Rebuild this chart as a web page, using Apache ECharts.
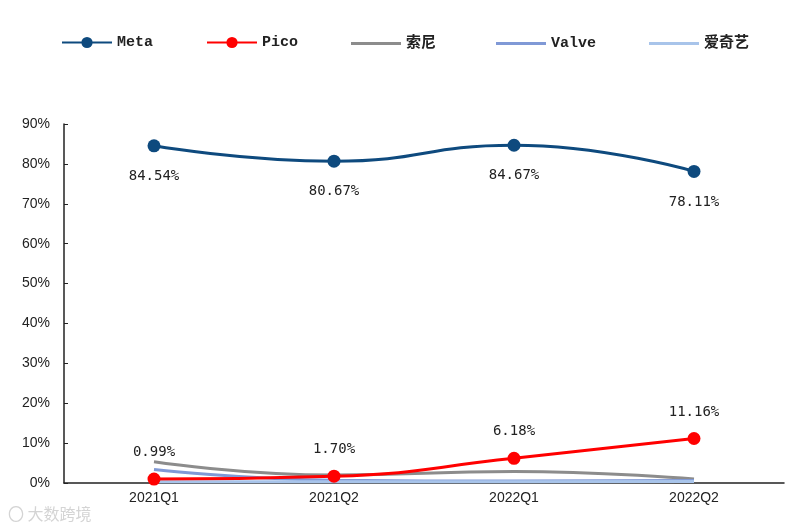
<!DOCTYPE html>
<html><head><meta charset="utf-8">
<script src="https://cdn.jsdelivr.net/npm/echarts@6/dist/echarts.min.js"></script>
<style>html,body{margin:0;padding:0;background:#fff}#c{width:800px;height:532px}</style>
</head><body><div id="c"></div>
<script>
const categories = ['2021Q1', '2021Q2', '2022Q1', '2022Q2'];
const meta = [84.54, 80.67, 84.67, 78.11];
const pico = [0.99, 1.70, 6.18, 11.16];
const sony = [5.3, 2.0, 2.9, 1.0];
const valve = [3.4, 0.7, 0.5, 0.6];
const iqiyi = [0.3, 0.3, 0.3, 0.4];
const yTicks = [0, 10, 20, 30, 40, 50, 60, 70, 80, 90];

const chart = echarts.init(document.getElementById('c'));
const monoFont = '"DejaVu Sans Mono", "Liberation Mono", monospace';
const legendText = { fontFamily: '"Liberation Mono", "Noto Sans CJK SC", monospace', fontSize: 15, color: '#222', fontWeight: 'bold' };
function lg(name, left) {
  return { data: [name], left: left, top: 30, itemWidth: 50, itemHeight: 14, itemGap: 4, textStyle: legendText };
}
function lgPlain(name, left) {
  return { data: [{ name: name, icon: 'rect' }], left: left, top: 31, itemWidth: 50, itemHeight: 3, itemGap: 4, textStyle: legendText };
}
chart.setOption({
  animation: false,
  legend: [lg('Meta', 56), lg('Pico', 201), lgPlain('索尼', 346), lgPlain('Valve', 491), lgPlain('爱奇艺', 644)],
  grid: { left: 64, right: 16, top: 124, bottom: 49 },
  xAxis: {
    type: 'category', data: categories,
    axisLine: { lineStyle: { color: '#222', width: 1.5 } },
    axisTick: { inside: true, length: 4, lineStyle: { color: '#222' } },
    axisLabel: { color: '#222', fontSize: 14, fontFamily: '"Liberation Sans Narrow", "Liberation Sans", sans-serif', margin: 8 }
  },
  yAxis: {
    type: 'value', min: 0, max: 90, interval: 10,
    splitLine: { show: false },
    axisLine: { show: true, lineStyle: { color: '#222', width: 1.5 } },
    axisTick: { show: true, inside: true, length: 4, lineStyle: { color: '#222' } },
    axisLabel: { color: '#222', fontSize: 14, fontFamily: '"Liberation Sans Narrow", "Liberation Sans", sans-serif', margin: 14,
      formatter: v => yTicks.includes(v) ? v + '%' : '' }
  },
  series: [
    { name: 'Meta', type: 'line', data: meta, smooth: true, symbol: 'circle', symbolSize: 13,
      itemStyle: { color: '#0E4A7E' }, lineStyle: { width: 3, color: '#0E4A7E' },
      label: { show: true, position: 'bottom', distance: 17, formatter: p => p.value.toFixed(2) + '%', color: '#222', fontSize: 14, fontFamily: monoFont } },
    { name: 'Pico', type: 'line', data: pico, smooth: true, symbol: 'circle', symbolSize: 13, z: 5,
      itemStyle: { color: '#FF0000' }, lineStyle: { width: 3, color: '#FF0000' },
      label: { show: true, position: 'top', distance: 13, formatter: p => p.value.toFixed(2) + '%', color: '#222', fontSize: 14, fontFamily: monoFont } },
    { name: '索尼', type: 'line', data: sony, smooth: true, symbol: 'none', z: 3,
      itemStyle: { color: '#8C8C8C' }, lineStyle: { width: 3, color: '#8C8C8C' } },
    { name: 'Valve', type: 'line', data: valve, smooth: true, symbol: 'none', z: 3,
      itemStyle: { color: '#8099D6' }, lineStyle: { width: 3, color: '#8099D6' } },
    { name: '爱奇艺', type: 'line', data: iqiyi, smooth: true, symbol: 'none', z: 3,
      itemStyle: { color: '#A8C4EA' }, lineStyle: { width: 3, color: '#A8C4EA' } }
  ],
  graphic: [{ type: 'text', left: 8, top: 506, style: { text: '〇 大数跨境', fill: '#d4d4d4', fontSize: 16, fontFamily: '"Noto Sans CJK SC", sans-serif' } }]
});
</script></body></html>
